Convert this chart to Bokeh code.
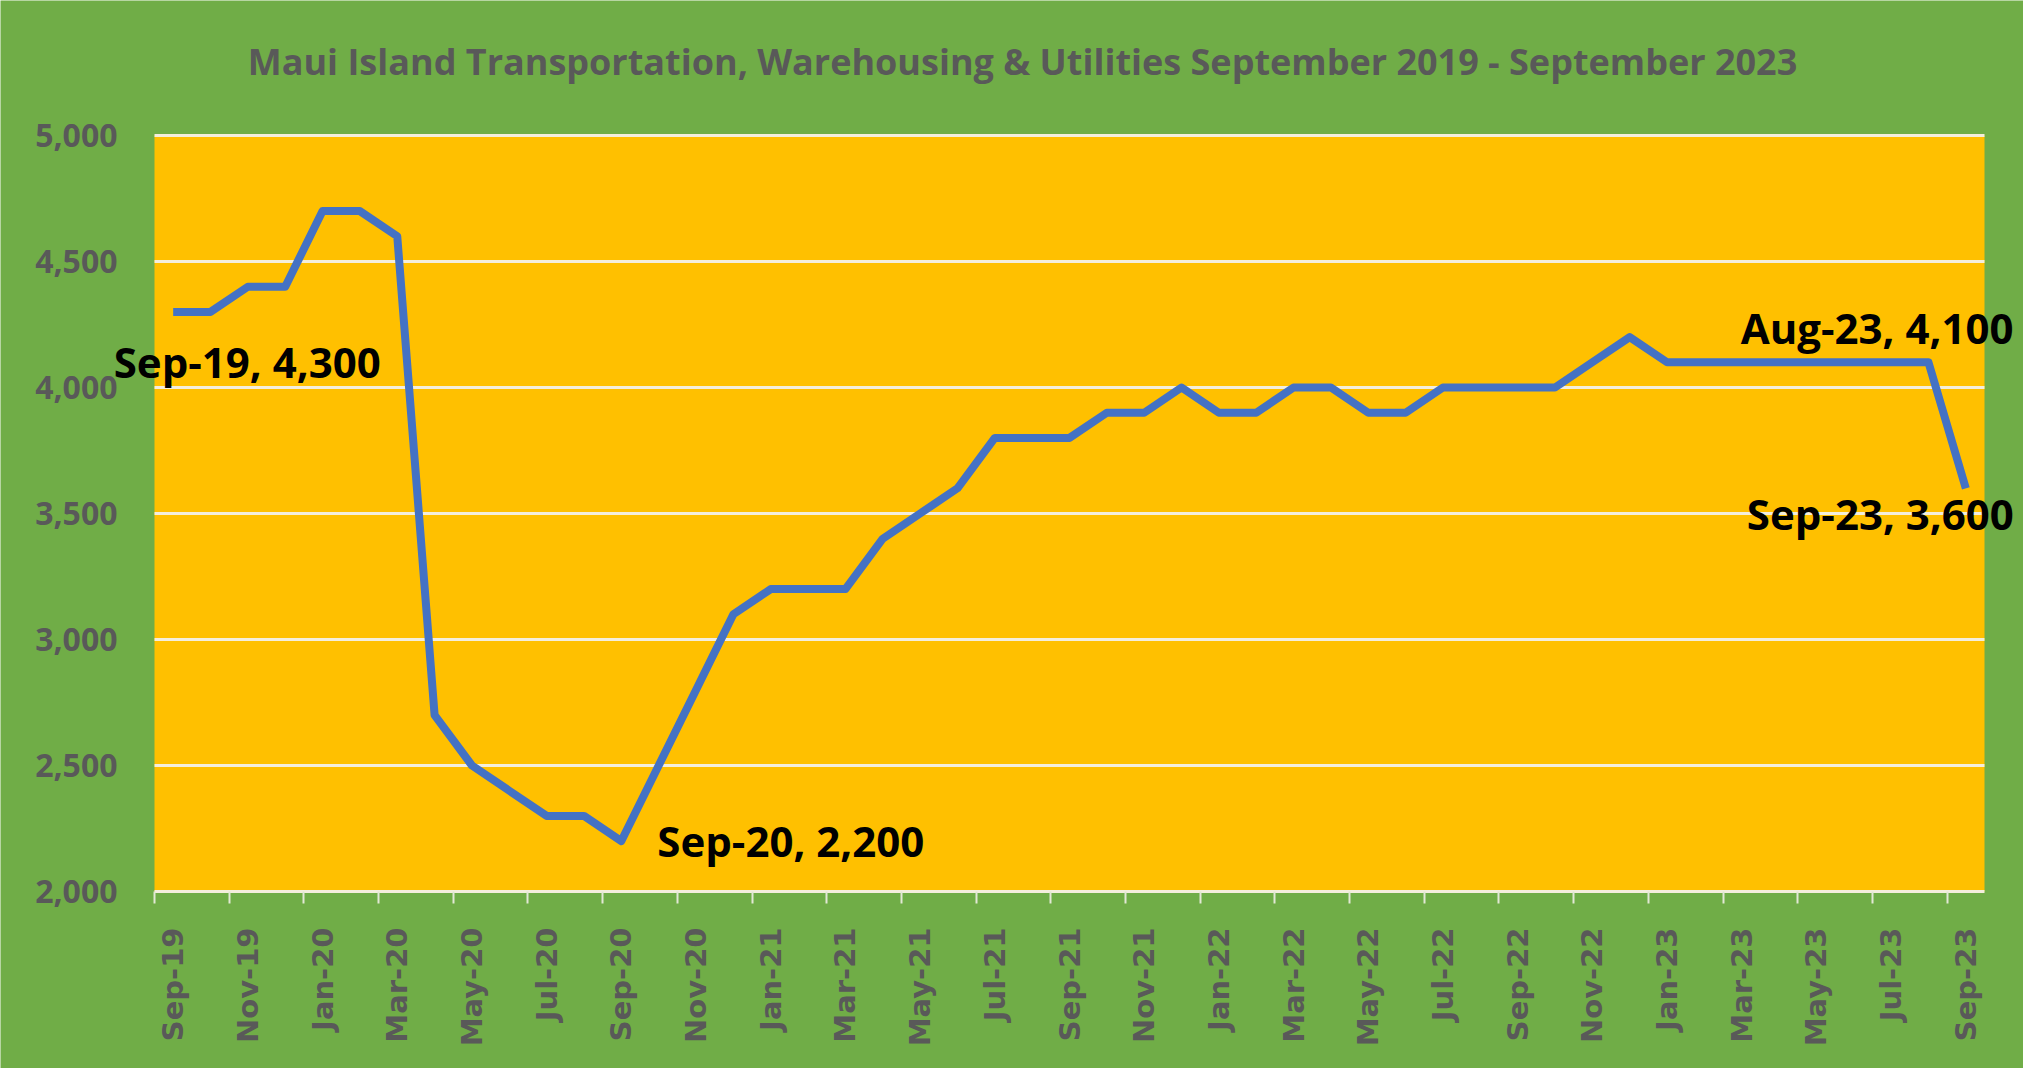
from bokeh.plotting import figure
from bokeh.models import (FixedTicker, NumeralTickFormatter, ColumnDataSource, Label,
                          BoxAnnotation)
from bokeh.embed import file_html
from bokeh.resources import INLINE
import math

months = ["Sep-19", "Oct-19", "Nov-19", "Dec-19", "Jan-20", "Feb-20", "Mar-20", "Apr-20",
          "May-20", "Jun-20", "Jul-20", "Aug-20", "Sep-20", "Oct-20", "Nov-20", "Dec-20",
          "Jan-21", "Feb-21", "Mar-21", "Apr-21", "May-21", "Jun-21", "Jul-21", "Aug-21",
          "Sep-21", "Oct-21", "Nov-21", "Dec-21", "Jan-22", "Feb-22", "Mar-22", "Apr-22",
          "May-22", "Jun-22", "Jul-22", "Aug-22", "Sep-22", "Oct-22", "Nov-22", "Dec-22",
          "Jan-23", "Feb-23", "Mar-23", "Apr-23", "May-23", "Jun-23", "Jul-23", "Aug-23",
          "Sep-23"]
jobs = [4300, 4300, 4400, 4400, 4700, 4700, 4600, 2700,
        2500, 2400, 2300, 2300, 2200, 2500, 2800, 3100,
        3200, 3200, 3200, 3400, 3500, 3600, 3800, 3800,
        3800, 3900, 3900, 4000, 3900, 3900, 4000, 4000,
        3900, 3900, 4000, 4000, 4000, 4000, 4100, 4200,
        4100, 4100, 4100, 4100, 4100, 4100, 4100, 4100,
        3600]
y_ticks = [2000, 2500, 3000, 3500, 4000, 4500, 5000]
labelled = ["Sep-19", "Sep-20", "Aug-23", "Sep-23"]
title_text = "Maui Island Transportation, Warehousing & Utilities September 2019 - September 2023"

GREEN = "#70AD47"
GOLD = "#FFC000"
GREY = "#595959"
BLUE = "#4472C4"
LIGHT = "#F4EEDC"

# layout (canvas pixels): the gold plot area sits inside a full-canvas frame
W, H = 2023, 1068
LEFT, RIGHT, TOP, BOTTOM = 154, 39, 135, 177
Y0, Y1 = y_ticks[0], y_ticks[-1]
n = len(months)
px_x = (W - LEFT - RIGHT) / n
px_y = (H - TOP - BOTTOM) / (Y1 - Y0)
XA, XB = -0.5, n - 0.5

idx = list(range(n))
src = ColumnDataSource(dict(x=idx, y=jobs, m=months))

p = figure(width=W, height=H,
           x_range=(XA - LEFT / px_x, XB + RIGHT / px_x),
           y_range=(Y0 - BOTTOM / px_y, Y1 + TOP / px_y),
           output_backend="svg", toolbar_location=None, title=None,
           background_fill_color=GREEN, border_fill_color=GREEN,
           min_border_left=0, min_border_right=0, min_border_top=0, min_border_bottom=0)
p.outline_line_color = None

# gold plot area
p.add_layout(BoxAnnotation(left=XA, right=XB, bottom=Y0, top=Y1, fill_color=GOLD,
                           fill_alpha=1, line_color=None, level="image"))

# horizontal gridlines across the plot area only
gl = y_ticks[1:]
p.segment(x0=[XA] * len(gl), x1=[XB] * len(gl), y0=gl, y1=gl, line_color=LIGHT, line_width=3)

p.line("x", "y", source=src, line_color=BLUE, line_width=8, line_join="round")

# axes
xa = p.xaxis[0]
xa.fixed_location = Y0
xa.bounds = (XA, XB)
xa.ticker = FixedTicker(ticks=idx[::2], minor_ticks=[i - 0.5 for i in idx[::2]])
xa.major_label_overrides = {i: months[i] for i in idx[::2]}
xa.major_label_orientation = math.pi / 2
xa.major_label_text_font = "DejaVu Sans"
xa.major_label_text_font_style = "bold"
xa.major_label_text_font_size = "29px"
xa.major_label_text_color = GREY
xa.major_tick_line_color = None
xa.major_tick_out = 12
xa.major_tick_in = 0
xa.minor_tick_line_color = "#E2E8D5"
xa.minor_tick_line_width = 2
xa.minor_tick_out = 12
xa.minor_tick_in = 0
xa.axis_line_color = LIGHT
xa.axis_line_width = 3
xa.major_label_standoff = 24

ya = p.yaxis[0]
ya.fixed_location = XA
ya.bounds = (Y0, Y1)
ya.ticker = FixedTicker(ticks=y_ticks)
ya.formatter = NumeralTickFormatter(format="0,0")
ya.major_label_text_font = "Open Sans"
ya.major_label_text_font_style = "bold"
ya.major_label_text_font_size = "32px"
ya.major_label_text_color = GREY
ya.axis_line_color = None
ya.major_tick_line_color = None
ya.minor_tick_line_color = None
ya.major_tick_out = 0
ya.major_tick_in = 0
ya.major_label_standoff = 37

p.xgrid.visible = False
p.ygrid.visible = False

# chart title
p.add_layout(Label(x=1022, y=61, x_units="canvas", y_units="canvas", text=title_text,
                   text_font="Open Sans", text_font_style="bold", text_font_size="36px",
                   text_color=GREY, text_align="center", text_baseline="middle"))

# data labels: anchored on the data point
styles = {
    "Sep-19": dict(align="center", dx=74, dy=-50),
    "Sep-20": dict(align="left", dx=36, dy=1),
    "Aug-23": dict(align="right", dx=85, dy=35),
    "Sep-23": dict(align="right", dx=48, dy=-25),
}
for m in labelled:
    i = months.index(m)
    st = styles[m]
    p.add_layout(Label(x=i, y=jobs[i], x_offset=st["dx"], y_offset=st["dy"],
                       text=f"{m}, {jobs[i]:,}", text_font="Open Sans",
                       text_font_style="bold", text_font_size="42px", text_color="black",
                       text_baseline="alphabetic", text_align=st["align"]))

open("out.html", "w").write(file_html(p, INLINE))
